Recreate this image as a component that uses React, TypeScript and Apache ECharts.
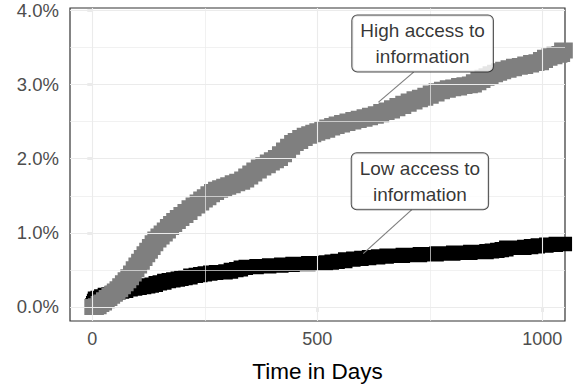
import React, { useEffect, useRef } from "react";
import * as echarts from "echarts";

// High access to information (grey curve): days and cumulative incidence (%)
const highDays = [0, 8, 14, 20, 26, 32, 38, 44, 50, 56, 62, 68, 74, 80, 86, 92, 98, 104, 110, 116, 122, 128, 134, 140, 147, 154, 161, 168, 175, 182, 190, 198, 207, 216, 225, 234, 242, 250, 258, 266, 275, 284, 293, 302, 312, 322, 333, 342, 351, 360, 370, 380, 390, 399, 408, 417, 426, 435, 444, 452, 462, 472, 482, 491, 500, 511, 522, 533, 543, 555, 567, 580, 592, 605, 617, 630, 642, 654, 666, 678, 691, 703, 716, 728, 740, 752, 765, 777, 790, 802, 815, 827, 839, 848, 858, 867, 876, 885, 895, 904, 913, 925, 937, 950, 962, 975, 987, 997, 1006, 1016, 1027, 1038, 1044, 1050];
const highValues = [0, 0.01, 0.04, 0.06, 0.09, 0.12, 0.15, 0.18, 0.21, 0.24, 0.28, 0.32, 0.36, 0.4, 0.45, 0.51, 0.56, 0.61, 0.66, 0.71, 0.76, 0.81, 0.86, 0.91, 0.95, 0.99, 1.03, 1.08, 1.12, 1.16, 1.2, 1.24, 1.28, 1.33, 1.37, 1.41, 1.45, 1.48, 1.52, 1.55, 1.58, 1.6, 1.62, 1.64, 1.67, 1.69, 1.72, 1.76, 1.8, 1.84, 1.88, 1.91, 1.95, 1.98, 2.01, 2.06, 2.11, 2.16, 2.21, 2.24, 2.28, 2.31, 2.33, 2.35, 2.37, 2.39, 2.42, 2.44, 2.46, 2.48, 2.5, 2.52, 2.54, 2.56, 2.58, 2.6, 2.63, 2.65, 2.68, 2.71, 2.74, 2.77, 2.8, 2.82, 2.85, 2.88, 2.91, 2.93, 2.95, 2.96, 2.98, 2.99, 3.0, 3.03, 3.06, 3.09, 3.11, 3.14, 3.16, 3.18, 3.2, 3.22, 3.24, 3.25, 3.27, 3.29, 3.3, 3.33, 3.36, 3.38, 3.4, 3.41, 3.46, 3.46];

// Low access to information (black curve)
const lowDays = [0, 2, 4, 6, 12, 20, 28, 36, 45, 52, 58, 66, 75, 85, 95, 105, 115, 124, 132, 141, 150, 160, 170, 180, 190, 198, 207, 218, 230, 240, 250, 262, 275, 296, 308, 320, 330, 341, 365, 393, 420, 445, 480, 519, 532, 545, 562, 580, 598, 615, 635, 654, 690, 728, 765, 802, 840, 876, 888, 900, 910, 920, 960, 975, 990, 1009, 1030, 1050];
const lowValues = [0.02, 0.05, 0.08, 0.11, 0.12, 0.14, 0.16, 0.17, 0.19, 0.2, 0.21, 0.22, 0.24, 0.25, 0.26, 0.27, 0.28, 0.29, 0.3, 0.32, 0.33, 0.35, 0.36, 0.37, 0.38, 0.39, 0.4, 0.42, 0.43, 0.44, 0.45, 0.46, 0.47, 0.48, 0.5, 0.51, 0.53, 0.54, 0.55, 0.56, 0.57, 0.58, 0.59, 0.6, 0.61, 0.62, 0.64, 0.65, 0.66, 0.67, 0.68, 0.69, 0.7, 0.71, 0.72, 0.73, 0.74, 0.75, 0.76, 0.77, 0.78, 0.8, 0.81, 0.82, 0.83, 0.84, 0.85, 0.85];

// Axis ticks
const xTicks = [0, 500, 1000];
const xMinorTicks = [250, 750];
const yTicks = [0, 1, 2, 3, 4];
const yMinorTicks = [0.5, 1.5, 2.5, 3.5];

// Annotation labels (center in data coords) and leader segments
const labelTexts = ["High access to\ninformation", "Low access to\ninformation"];
const labelPoints = [
  [734, 3.554],
  [728, 1.695],
];
const leaderHigh = [
  [714, 3.167],
  [636, 2.763],
];
const leaderLow = [
  [710, 1.313],
  [602, 0.72],
];

const FONT = "'Liberation Sans', Arial, Helvetica, sans-serif";

export default function App() {
  const ref = useRef<HTMLDivElement>(null);

  useEffect(() => {
    if (!ref.current) return;
    const chart = echarts.init(ref.current, undefined, { renderer: "svg" });

    const gridLines = [
      ...xTicks.map((v) => ({ xAxis: v, lineStyle: { color: "#EBEBEB", width: 1.1 } })),
      ...xMinorTicks.map((v) => ({ xAxis: v, lineStyle: { color: "#EBEBEB", width: 0.7 } })),
      ...yTicks.map((v) => ({ yAxis: v, lineStyle: { color: "#EBEBEB", width: 1.1 } })),
      ...yMinorTicks.map((v) => ({ yAxis: v, lineStyle: { color: "#EBEBEB", width: 0.7 } })),
    ];

    chart.setOption({
      animation: false,
      textStyle: { fontFamily: FONT },
      grid: {
        left: 70,
        top: 8,
        width: 495,
        height: 313,
        show: true,
        borderColor: "#333333",
        borderWidth: 1.2,
        backgroundColor: "transparent",
      },
      xAxis: {
        type: "value",
        min: -49.6,
        max: 1050.4,
        splitLine: { show: false },
        axisLine: { show: false },
        axisTick: {
          show: true,
          customValues: xTicks,
          length: 5,
          lineStyle: { color: "#333333", width: 1.2 },
        },
        axisLabel: {
          customValues: xTicks,
          color: "#4D4D4D",
          fontSize: 18,
          margin: 9,
          fontFamily: FONT,
          formatter: (v: number) => String(v),
        },
        name: "Time in Days",
        nameLocation: "middle",
        nameGap: 39,
        nameTextStyle: { color: "#000", fontSize: 22.5, fontFamily: FONT },
      },
      yAxis: {
        type: "value",
        min: -0.189,
        max: 4.032,
        splitLine: { show: false },
        axisLine: { show: false },
        axisTick: {
          show: true,
          customValues: yTicks,
          length: 5,
          lineStyle: { color: "#333333", width: 1.2 },
        },
        axisLabel: {
          customValues: yTicks,
          color: "#4D4D4D",
          fontSize: 18.5,
          margin: 11,
          fontFamily: FONT,
          formatter: (v: number) => v.toFixed(1) + "%",
        },
      },
      series: [
        {
          type: "line",
          data: [],
          silent: true,
          z: 0,
          markLine: {
            silent: true,
            symbol: ["none", "none"],
            label: { show: false },
            lineStyle: { type: "solid" },
            data: gridLines,
          },
        },
        {
          name: "Low access",
          type: "line",
          step: "end",
          showSymbol: false,
          clip: true,
          z: 3,
          data: lowDays.map((d, i) => [d, lowValues[i]]),
          lineStyle: { color: "#000000", width: 14.5, cap: "square", join: "miter" },
          itemStyle: { color: "#000000" },
        },
        {
          name: "High access",
          type: "line",
          step: "end",
          showSymbol: false,
          clip: true,
          z: 4,
          data: highDays.map((d, i) => [d, highValues[i]]),
          lineStyle: { color: "#7F7F7F", width: 16, cap: "square", join: "miter" },
          itemStyle: { color: "#7F7F7F" },
        },
        {
          type: "line",
          showSymbol: false,
          z: 5,
          data: leaderHigh,
          lineStyle: { color: "#7F7F7F", width: 1.2 },
        },
        {
          type: "line",
          showSymbol: false,
          z: 5,
          data: leaderLow,
          lineStyle: { color: "#7F7F7F", width: 1.2 },
        },
        {
          type: "scatter",
          z: 6,
          symbolSize: 1,
          itemStyle: { color: "transparent" },
          data: labelPoints.map((p, i) => ({ value: p, name: labelTexts[i] })),
          label: {
            show: true,
            position: "inside",
            formatter: (p: any) => p.name,
            fontSize: 19,
            lineHeight: 26,
            color: "#000",
            fontFamily: FONT,
            backgroundColor: "#FFFFFF",
            borderColor: "#222222",
            borderWidth: 1,
            borderRadius: 5,
            padding: [2, 8, 2, 8],
            align: "center",
            verticalAlign: "middle",
          },
        },
      ],
    });

    return () => chart.dispose();
  }, []);

  return (
    <div
      ref={ref}
      style={{ position: "fixed", left: 0, top: 0, width: 576, height: 390, background: "#fff" }}
    />
  );
}
